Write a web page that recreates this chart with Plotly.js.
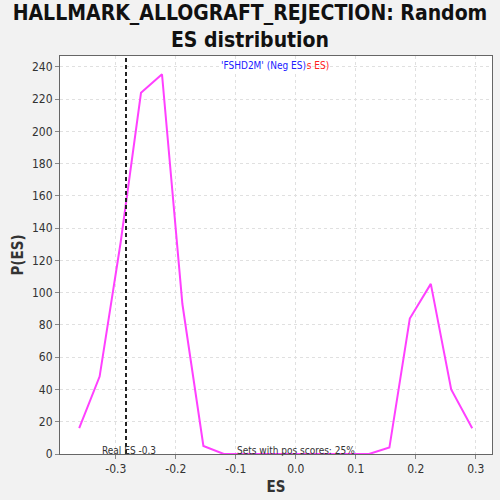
<!DOCTYPE html>
<html><head><meta charset="utf-8">
<script src="https://cdn.plot.ly/plotly-3.0.1.min.js"></script>
<style>html,body{margin:0;padding:0;background:#f2f2f2;}#c{width:500px;height:500px;}</style>
</head><body><div id="c"></div>
<script>
const esValues = [-0.361, -0.327, -0.292, -0.258, -0.223, -0.189, -0.154, -0.120, -0.085, -0.051, -0.016, 0.018, 0.053, 0.087, 0.122, 0.156, 0.190, 0.225, 0.259, 0.294];
const pES = [16, 48, 131, 224, 235.5, 93, 5, 0, 0, 0, 0, 0, 0, 0, 0, 4, 84, 105.5, 40, 16];
const realES = -0.283;
const xTicks = [-0.3, -0.2, -0.1, 0.0, 0.1, 0.2, 0.3];
const xTickText = ["-0.3", "-0.2", "-0.1", "0.0", "0.1", "0.2", "0.3"];
const yTicks = [0, 20, 40, 60, 80, 100, 120, 140, 160, 180, 200, 220, 240];

const font = "DejaVu Sans Condensed, DejaVu Sans, sans-serif";
const data = [{
  x: esValues, y: pES, type: 'scatter', mode: 'lines',
  line: {color: '#ff40ff', width: 2}, hoverinfo: 'skip'
}];
const layout = {
  width: 500, height: 500,
  paper_bgcolor: '#f2f2f2', plot_bgcolor: '#ffffff',
  margin: {l: 60, r: 8, t: 56, b: 46},
  showlegend: false,
  title: {text: 'HALLMARK_ALLOGRAFT_REJECTION: Random<br>ES distribution', x: 0.5, xanchor: 'center', y: 0.96, yanchor: 'middle',
    font: {family: font, size: 21, color: '#111', weight: 'bold'}},
  xaxis: {range: [-0.393, 0.327], tickvals: xTicks, ticktext: xTickText, showgrid: true, gridcolor: '#e0e0e0', griddash: '3px,3px',
    zeroline: false, showline: true, mirror: true, linecolor: '#666', linewidth: 1, ticks: 'outside', ticklen: 4, tickcolor: '#888',
    tickfont: {family: font, size: 12, color: '#333'},
    title: {text: 'ES', font: {family: font, size: 15, color: '#333', weight: 'bold'}, standoff: 6}},
  yaxis: {range: [0, 246.8], tickvals: yTicks, showgrid: true, gridcolor: '#e0e0e0', griddash: '3px,3px',
    zeroline: false, showline: true, mirror: true, linecolor: '#666', linewidth: 1, ticks: 'outside', ticklen: 4, tickcolor: '#888',
    tickfont: {family: font, size: 12, color: '#333'},
    title: {text: 'P(ES)', font: {family: font, size: 15, color: '#333', weight: 'bold'}, standoff: 4}},
  shapes: [{type: 'line', xref: 'x', yref: 'paper', x0: realES, x1: realES, y0: 0, y1: 1,
    line: {color: '#222', width: 2, dash: '4px,3px'}}],
  annotations: [
    {text: "'FSHD2M' (Pos ES)", xref: 'paper', yref: 'paper', x: 0.528, y: 0.975, xanchor: 'center', yanchor: 'middle', showarrow: false,
      font: {family: font, size: 10, color: '#ff2020'}},
    {text: "'FSHD2M' (Neg ES)", xref: 'paper', yref: 'paper', x: 0.472, y: 0.975, xanchor: 'center', yanchor: 'middle', showarrow: false,
      bgcolor: '#ffffff', borderpad: 0, font: {family: font, size: 10, color: '#2020ff'}},
    {text: 'Real ES -0.3', xref: 'x', yref: 'paper', x: realES, y: 0, xanchor: 'center', yanchor: 'bottom', showarrow: false,
      font: {family: font, size: 10, color: '#333'}, yshift: -4, xshift: 3},
    {text: 'Sets with pos scores: 25%', xref: 'x', yref: 'paper', x: 0.0, y: 0, xanchor: 'center', yanchor: 'bottom', showarrow: false,
      font: {family: font, size: 10, color: '#333'}, yshift: -4}
  ]
};
Plotly.newPlot('c', data, layout, {displayModeBar: false, staticPlot: true});
</script></body></html>
